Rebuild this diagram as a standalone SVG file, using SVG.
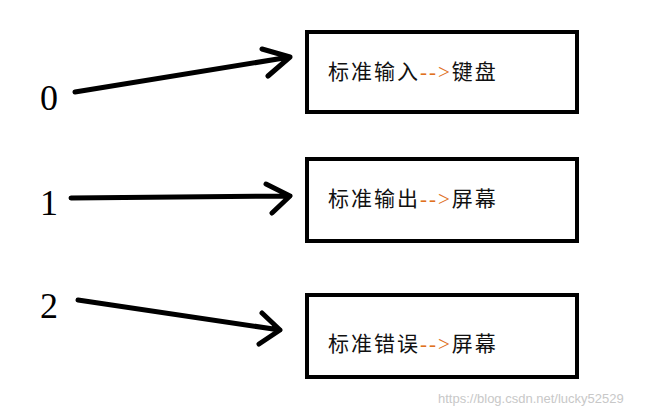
<svg xmlns="http://www.w3.org/2000/svg" width="671" height="415" viewBox="0 0 671 415">
<style>
.box{fill:#fff;stroke:#000;stroke-width:4}
.t{font-family:"Liberation Serif","Noto Sans CJK SC",serif;font-size:21px;letter-spacing:2px;fill:#111}
.o{fill:#e07020}
.n{font-family:"Liberation Serif",serif;font-size:36px;fill:#000}
.a{fill:none;stroke:#000;stroke-width:5;stroke-linecap:round;stroke-linejoin:round}
.w{font-family:"Liberation Sans",sans-serif;font-size:13px;fill:#c8c8c8}
</style>
<rect width="671" height="415" fill="#fff"/>
<g id="n0"><rect class="box" x="307" y="32" width="270" height="80"/><text class="t" x="328" y="79">标准输入<tspan class="o">--&gt;</tspan>键盘</text></g>
<g id="n1"><rect class="box" x="307" y="159" width="270" height="82"/><text class="t" x="328" y="206">标准输出<tspan class="o">--&gt;</tspan>屏幕</text></g>
<g id="n2"><rect class="box" x="307" y="295" width="270" height="82"/><text class="t" x="328" y="351">标准错误<tspan class="o">--&gt;</tspan>屏幕</text></g>
<g id="l0"><text class="n" x="40" y="110">0</text></g>
<g id="l1"><text class="n" x="40" y="215">1</text></g>
<g id="l2"><text class="n" x="40" y="318">2</text></g>
<g id="connectors">
<path class="a" d="M75 92 L290 57 M262 49 L290 57 L268 76"/>
<path class="a" d="M71 198 L290 196 M266 184 L290 196 L272 213"/>
<path class="a" d="M78 300 L280 330 M262 313 L280 330 L259 344"/>
</g>
<text class="w" x="438" y="403">https://blog.csdn.net/lucky52529</text>
</svg>
